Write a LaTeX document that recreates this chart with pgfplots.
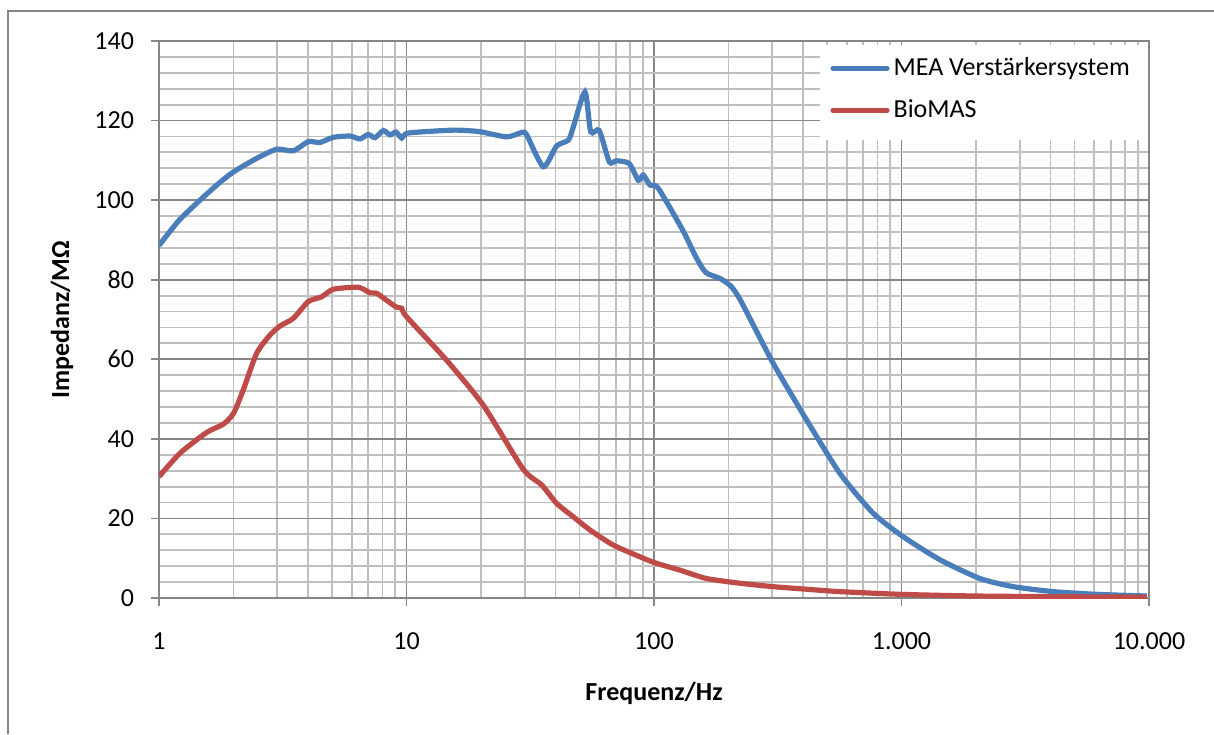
\documentclass[border=0pt]{standalone}
\usepackage{fontspec}
\setmainfont{Carlito}
\usepackage{pgfplots}
\pgfplotsset{compat=1.18}
\definecolor{mea}{HTML}{4A7EBB}
\definecolor{bio}{HTML}{BE4B48}
\definecolor{majgrid}{HTML}{868686}
\definecolor{mingrid}{HTML}{BFBFBF}

\begin{document}
\fontsize{13}{15}\selectfont
\begin{tikzpicture}
\useasboundingbox (0,0) rectangle (607pt,367pt);
\draw[majgrid, line width=0.75pt] (4pt,0) -- (4pt,361.5pt) -- (607pt,361.5pt);
\begin{axis}[
  at={(79.5pt,68pt)}, anchor=south west,
  scale only axis, width=495pt, height=278.5pt,
  xmode=log, xmin=1, xmax=10000, ymin=0, ymax=140,
  xtick={1,10,100,1000,10000}, xticklabels={1,10,100,1.000,10.000},
  ytick={0,20,...,140}, minor y tick num=4,
  /pgf/number format/assume math mode=true,
  xticklabel style={yshift=-9pt},
  yticklabel style={xshift=-4pt},
  grid=both,
  major grid style={majgrid, line width=0.8pt},
  minor grid style={mingrid, line width=0.9pt},
  axis line style={majgrid, line width=0.8pt},
  tick align=outside, tick pos=left,
  major tick length=4pt, minor tick length=0pt,
  tick style={majgrid, line width=0.8pt},
  xlabel={\bfseries Frequenz/Hz},
  ylabel={\bfseries Impedanz/MΩ},
  xlabel style={at={(axis description cs:0.5,-0.1706)}, anchor=center},
  ylabel style={at={(axis description cs:-0.098,0.5)}, anchor=center},
  legend image code/.code={\draw[#1, line width=2.6pt, line cap=round] (0pt,0pt) -- (27pt,0pt);},
  legend cell align=left,
  legend style={at={(axis description cs:0.6677,0.9928)}, anchor=north west,
    draw=none, fill=none, inner xsep=5pt, inner ysep=4pt, row sep=6pt},
]
\fill[white] (axis description cs:0.6677,0.8223) rectangle (axis description cs:0.999,0.9928);

\addplot[mea, line width=2.6pt, smooth, tension=0.4] coordinates {
(1,88.6) (1.2,94.8) (1.465,100.0) (1.75,104.3) (2.0,107.1) (2.48,110.5)
(2.99,112.8) (3.49,112.4) (4.01,114.7) (4.47,114.5) (5.06,115.8) (5.91,116.1)
(6.49,115.4) (7.01,116.5) (7.46,115.7) (8.06,117.5) (8.58,116.4) (9.07,117.1)
(9.56,115.6) (10.0,116.8) (12.5,117.3) (15.9,117.6) (19.8,117.2) (25.4,115.9)
(29.2,117.0) (30.6,116.4) (35.7,108.4) (40.4,113.6) (45.1,115.1) (47.2,118.4)
(52.6,127.2) (55.5,117.2) (60.1,117.5) (66.0,109.6) (70.6,109.9) (79.4,109.2)
(86.4,105.0) (90.5,106.3) (96.3,103.8) (104,103.0) (131,92.3) (148,85.6)
(162,81.8) (185,80.3) (205,78.3) (225,74.5) (303,59.0) (414,44.7) (564,31.3)
(769,21.3) (1016,15.4) (1431,9.6) (2075,4.9) (2830,2.85) (4104,1.6)
(6150,0.92) (9790,0.5)
};
\addplot[bio, line width=2.6pt, smooth, tension=0.4] coordinates {
(1,30.5) (1.216,36.4) (1.558,41.6) (1.82,43.7) (2.0,46.4) (2.19,52.3)
(2.48,61.5) (2.81,66.1) (3.09,68.4) (3.49,70.3) (4.01,74.5) (4.54,75.7)
(5.06,77.6) (6.39,78.1) (7.12,76.7) (7.57,76.6) (8.58,74.2) (9.11,73.1)
(9.56,72.8) (10.0,70.7) (14.5,59.8) (20.4,48.5) (29.6,32.4) (35.2,28.4)
(40.4,23.8) (47.2,20.4) (55.1,17.1) (68.5,13.3) (90.5,10.0) (102.5,8.7)
(127.4,7.0) (163,4.9) (223,3.7) (303,2.85) (414,2.2) (564,1.6)
(1016,0.9) (2000,0.5) (5000,0.3) (9790,0.2)
};
\legend{MEA Verstärkersystem, BioMAS}
\end{axis}
\end{tikzpicture}
\end{document}
